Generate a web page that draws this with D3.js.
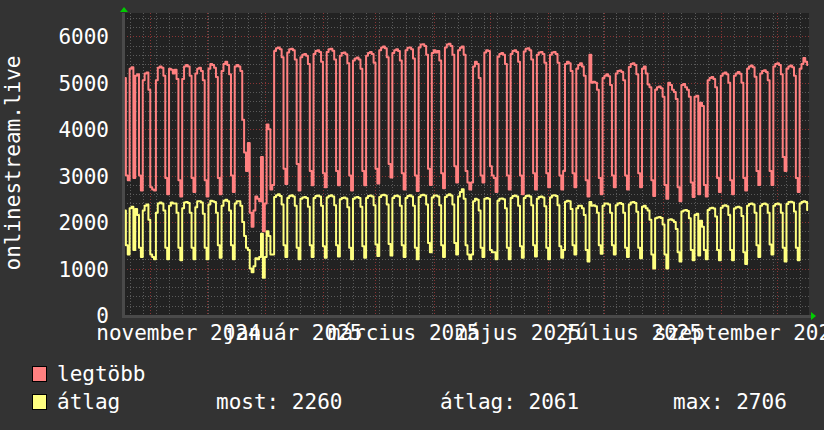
<!DOCTYPE html>
<html><head><meta charset="utf-8">
<script src="https://cdn.jsdelivr.net/npm/d3@7"></script>
<style>html,body{margin:0;padding:0;background:#333333;}svg{display:block;}</style>
</head><body>
<svg id="chart" width="824" height="430"></svg>
<script>
// ---- data (daily values, starting Fri 2024-10-18) ----
const startDay = "2024-10-18";
const endDay = "2025-10-18";
const legtobb = [
5100,3000,2900,
5300,5330,2950,5150,5180,3000,2680,
5050,5200,5220,4850,2750,2700,2680,
5050,5320,5350,5320,5150,2950,2600,
5300,5280,5200,5280,5080,2900,2550,
5080,5350,5380,5350,5150,2950,2650,
5200,5300,5320,5250,5050,2900,2550,
5300,5400,5380,5320,5120,2950,2600,
5250,5400,5450,5380,5180,3000,2650,
5350,5380,5350,5250,4200,3500,3100,
3700,2200,1900,2250,2550,2500,2450,
3400,1800,2400,4100,4000,2700,2800,
5680,5740,5760,5720,5550,3150,2820,
5650,5720,5730,5700,5500,3250,2680,
5550,5600,5620,5580,5400,3100,2790,
5620,5680,5700,5660,5450,3050,2750,
5660,5720,5730,5690,5500,3100,2790,
5580,5640,5650,5610,5420,3000,2680,
5480,5520,5540,5500,5300,3100,2790,
5580,5640,5660,5620,5430,3150,2830,
5700,5760,5780,5740,5550,3250,2960,
5640,5700,5720,5680,5480,3050,2700,
5700,5750,5760,5720,5520,3000,2670,
5760,5820,5830,5790,5600,3150,2800,
5640,5700,5650,5680,5480,3050,2730,
5760,5820,5840,5790,5600,3200,2850,
5700,5750,5780,5600,3100,2850,2700,
2850,5350,5450,5400,5100,3000,2850,
5650,5700,5680,3200,3000,2950,2650,
5560,5620,5640,5600,5400,3000,2700,
5620,5680,5700,5660,5450,3000,2600,
5670,5730,5740,5700,5500,3050,2700,
5600,5650,5660,5620,5430,3050,2750,
5600,5650,5660,5620,5430,3000,2700,
3100,5400,5450,5420,5250,3050,2750,
5300,5380,5420,5350,5150,2900,2550,
5600,5000,5020,5000,4850,2950,2600,
5100,5150,5180,5140,4950,3000,2750,
5200,5250,5260,5230,5050,3000,2700,
5340,5400,5420,5380,5180,3050,2750,
5300,5350,5200,4960,4900,2900,2560,
4850,4900,4920,4880,4700,2800,2500,
5000,4950,4850,4800,4650,2750,2450,
4950,4970,4900,4850,4700,2850,2540,
4700,4720,2600,4570,4500,2800,2550,
5050,5100,5120,5080,4900,2950,2650,
5150,5200,5220,5180,5000,2900,2600,
5150,5200,5230,5190,5000,2950,2680,
5300,5350,5370,5330,5130,3100,2800,
5200,5250,5270,5230,5050,3100,2800,
5350,5400,5420,5380,5180,3400,3100,
5300,5350,5370,5330,5150,2950,2650,
5300,5400,5530,5450,5380
];
const atlag = [
2250,1500,1300,
2300,2330,1400,2280,2150,1450,1250,
2250,2350,2380,2050,1300,1250,1200,
2200,2400,2420,2400,2250,1450,1200,
2350,2420,2400,2400,2200,1450,1180,
2300,2420,2430,2410,2200,1450,1200,
2320,2450,2450,2420,2180,1450,1200,
2380,2460,2450,2430,2200,1500,1230,
2350,2460,2480,2450,2250,1500,1200,
2400,2450,2450,2350,2000,1700,1450,
1400,1000,920,1050,1220,1200,1250,
1750,800,1250,1800,1700,1300,1300,
2540,2580,2600,2560,2380,1500,1250,
2520,2560,2580,2550,2350,1450,1200,
2500,2530,2540,2520,2330,1500,1250,
2520,2560,2570,2550,2350,1480,1230,
2530,2560,2580,2550,2360,1500,1260,
2490,2520,2530,2510,2320,1450,1200,
2500,2530,2540,2520,2330,1480,1230,
2520,2560,2570,2550,2360,1520,1270,
2540,2580,2590,2570,2380,1530,1280,
2520,2560,2570,2550,2350,1500,1250,
2520,2560,2580,2550,2350,1450,1200,
2540,2580,2590,2570,2380,1550,1350,
2530,2570,2570,2550,2360,1500,1250,
2540,2580,2600,2570,2380,1550,1300,
2550,2650,2706,2500,1500,1300,1200,
1300,2450,2500,2480,2250,1450,1250,
2500,2520,2500,1400,1350,1350,1200,
2460,2500,2510,2490,2300,1450,1200,
2520,2560,2570,2550,2350,1480,1230,
2520,2560,2570,2550,2360,1500,1260,
2500,2540,2550,2530,2340,1450,1200,
2530,2570,2580,2560,2360,1480,1230,
1400,2440,2460,2450,2280,1500,1300,
2300,2350,2350,2300,2150,1400,1150,
2430,2350,2360,2340,2200,1500,1320,
2350,2400,2400,2380,2200,1500,1300,
2360,2400,2410,2390,2200,1450,1250,
2380,2420,2430,2410,2220,1450,1220,
2330,2350,2300,2250,2050,1300,1000,
2080,2100,2110,2090,1950,1300,1000,
2050,2060,2040,2000,1850,1350,1150,
2230,2250,2260,2240,2080,1400,1180,
2150,2180,1280,2030,1900,1400,1200,
2260,2300,2310,2290,2120,1400,1180,
2310,2350,2360,2340,2150,1400,1180,
2290,2320,2330,2310,2130,1350,1100,
2350,2390,2400,2380,2200,1500,1250,
2350,2390,2400,2380,2200,1520,1300,
2350,2390,2400,2380,2200,1450,1150,
2390,2430,2440,2420,2230,1450,1180,
2400,2430,2450,2430,2260
];
const yTicks = [0,1000,2000,3000,4000,5000,6000];
const xLabelMonths = ["2024-11-01","2025-01-01","2025-03-01","2025-05-01","2025-07-01","2025-09-01"];
const xLabelTexts = ["november 2024","január 2025","március 2025","május 2025","július 2025","szeptember 2025"];
const seriesNames = ["legtöbb","átlag"];
const seriesColors = ["#ff8080","#ffff80"];
const statTexts = ["most: 2260","átlag: 2061","max: 2706"];
const yTitle = "onlinestream.live";

// ---- layout ----
const W = 824, H = 430;
const L = 124, R = 809, T = 13, B = 315;
const FONT = "'DejaVu Sans Mono', monospace";
const svg = d3.select("#chart");
svg.append("rect").attr("width",W).attr("height",H).attr("fill","#333333");

const parse = d3.utcParse("%Y-%m-%d");
const t0 = parse(startDay), t1 = parse(endDay);
const x = d3.scaleUtc().domain([t0,t1]).range([L,R]);
const y = d3.scaleLinear().domain([0,6500]).range([B,T]);

// plot background
svg.append("rect").attr("x",L).attr("y",T).attr("width",R-L).attr("height",B-T).attr("fill","#222222");

const grid = svg.append("g").attr("shape-rendering","crispEdges");
// minor horizontal grid every 200
d3.range(200,6500,200).filter(v=>v%1000!==0).forEach(v=>{
  grid.append("line").attr("x1",L).attr("x2",R).attr("y1",Math.round(y(v))+0.5).attr("y2",Math.round(y(v))+0.5)
    .attr("stroke","#5a5a5a").attr("stroke-dasharray","1,2");
});
// minor vertical grid: Mondays
d3.utcMonday.range(t0,t1).forEach(d=>{
  const xx = Math.round(x(d))+0.5;
  grid.append("line").attr("x1",xx).attr("x2",xx).attr("y1",T).attr("y2",B)
    .attr("stroke","#5a5a5a").attr("stroke-dasharray","1,2");
});
// major horizontal grid
yTicks.filter(v=>v>0).forEach(v=>{
  grid.append("line").attr("x1",L).attr("x2",R).attr("y1",Math.round(y(v))+0.5).attr("y2",Math.round(y(v))+0.5)
    .attr("stroke","#8a3434").attr("stroke-dasharray","1,2");
});
// major vertical grid: month starts
d3.utcMonth.range(d3.utcMonth.ceil(t0),t1).forEach(d=>{
  const xx = Math.round(x(d))+0.5;
  grid.append("line").attr("x1",xx).attr("x2",xx).attr("y1",T).attr("y2",B+3)
    .attr("stroke","#8a3434").attr("stroke-dasharray","1,2");
});

// axes lines
svg.append("line").attr("x1",L-0.5).attr("x2",L-0.5).attr("y1",T).attr("y2",B+3).attr("stroke","#4a4a4a").attr("stroke-width",3);
svg.append("line").attr("x1",L-2).attr("x2",R+2).attr("y1",B+1.5).attr("y2",B+1.5).attr("stroke","#4a4a4a").attr("stroke-width",3);
// arrows
svg.append("path").attr("d",`M${L-4},${T-1} L${L+4},${T-1} L${L},${T-6} Z`).attr("fill","#00cc00");
svg.append("path").attr("d",`M${R+2},${B-3} L${R+2},${B+5} L${R+7},${B+1} Z`).attr("fill","#00cc00");

// data lines
const days = d3.range(legtobb.length).map(i=>d3.utcHour.offset(d3.utcDay.offset(t0,i),12));
const line = d3.line().x((d,i)=>x(days[i])).y(d=>y(d)).curve(d3.curveStep);
svg.append("path").attr("d",line(legtobb)).attr("fill","none").attr("stroke",seriesColors[0]).attr("stroke-width",2).attr("stroke-linejoin","round");
svg.append("path").attr("d",line(atlag)).attr("fill","none").attr("stroke",seriesColors[1]).attr("stroke-width",2).attr("stroke-linejoin","round");

// y tick labels
const yAxis = d3.axisLeft(y).tickValues(yTicks).tickFormat(d3.format("d")).tickSize(0).tickPadding(0);
const ya = svg.append("g").attr("transform",`translate(${L-15},0)`).call(yAxis);
ya.select(".domain").remove();
ya.selectAll("text").attr("font-family",FONT).attr("font-size",21).attr("fill","#ffffff").attr("dy","0.36em");

// x labels, centred half a month after the month start
xLabelMonths.forEach((m,i)=>{
  const d = d3.utcDay.offset(parse(m),15);
  svg.append("text").attr("x",x(d)).attr("y",340).attr("text-anchor","middle")
    .attr("font-family",FONT).attr("font-size",21).attr("fill","#ffffff").text(xLabelTexts[i]);
});

// y title
svg.append("text").attr("transform","translate(20,163) rotate(-90)").attr("text-anchor","middle")
  .attr("font-family",FONT).attr("font-size",21).attr("fill","#ffffff").text(yTitle);

// legend
const lg = svg.append("g");
[0,1].forEach(i=>{
  const yy = 366 + i*28;
  lg.append("rect").attr("x",32.5).attr("y",yy+0.5).attr("width",14).attr("height",15)
    .attr("fill",seriesColors[i]).attr("stroke","#000").attr("stroke-width",1);
  lg.append("text").attr("x",57).attr("y",yy+15).attr("font-family",FONT).attr("font-size",21)
    .attr("fill","#ffffff").text(seriesNames[i]);
});
const statX = [216,440,673];
statTexts.forEach((s,i)=>{
  lg.append("text").attr("x",statX[i]).attr("y",366+28+15).attr("font-family",FONT).attr("font-size",21)
    .attr("fill","#ffffff").text(s);
});
</script>
</body></html>
